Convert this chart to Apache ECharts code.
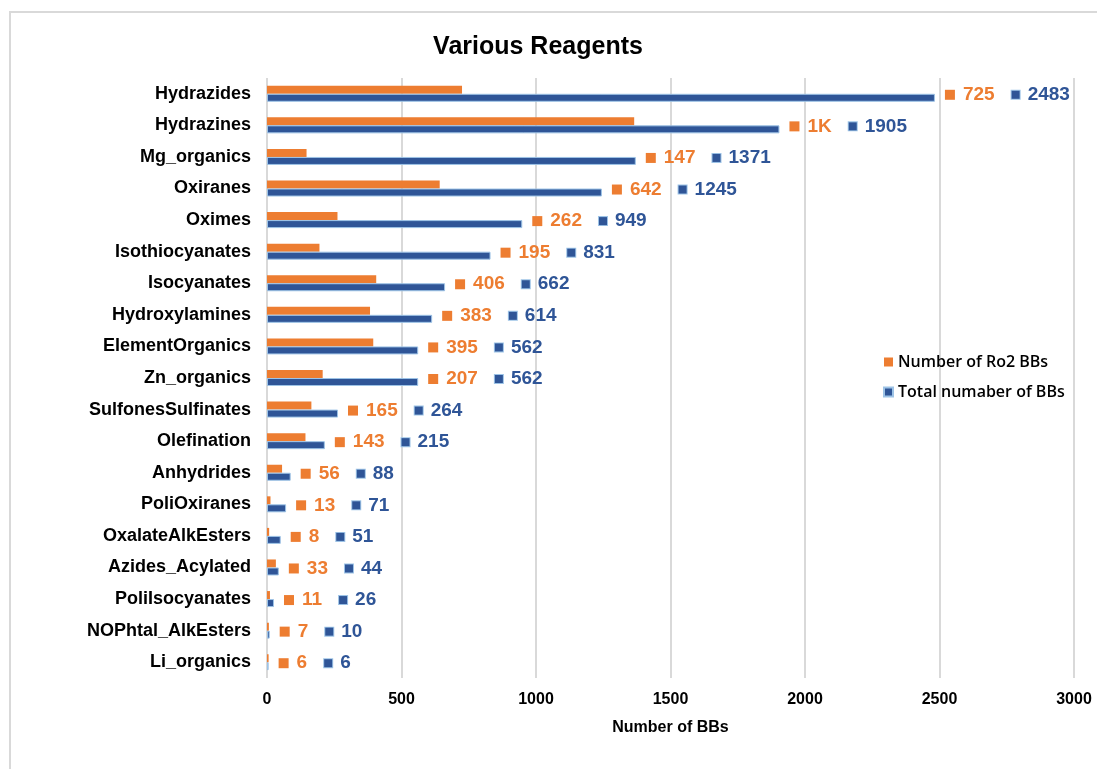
<!DOCTYPE html>
<html>
<head>
<meta charset="utf-8">
<script src="https://cdn.jsdelivr.net/npm/echarts@6/dist/echarts.min.js"></script>
<style>
  html, body { margin: 0; padding: 0; background: #fff; }
  #chart { width: 1097px; height: 769px; }
</style>
</head>
<body>
<div id="chart"></div>
<script>
// categories top to bottom
const categories = [
  "Hydrazides", "Hydrazines", "Mg_organics", "Oxiranes", "Oximes",
  "Isothiocyanates", "Isocyanates", "Hydroxylamines", "ElementOrganics",
  "Zn_organics", "SulfonesSulfinates", "Olefination", "Anhydrides",
  "PoliOxiranes", "OxalateAlkEsters", "Azides_Acylated", "PoliIsocyanates",
  "NOPhtal_AlkEsters", "Li_organics"
];
// Number of Ro2 BBs
const ro2Values = [725, 1365, 147, 642, 262, 195, 406, 383, 395, 207, 165, 143, 56, 13, 8, 33, 11, 7, 6];
// Total numaber of BBs
const totalValues = [2483, 1905, 1371, 1245, 949, 831, 662, 614, 562, 562, 264, 215, 88, 71, 51, 44, 26, 10, 6];
const xTicks = [0, 500, 1000, 1500, 2000, 2500, 3000];

const ORANGE = "#ED7D31";
const BLUE = "#2F5597";
const BLUE_EDGE = "#9DC3E6";

function fmtRo2(v) {
  // excel number format shows thousands as "1K"
  return v >= 1000 ? Math.round(v / 1000) + "K" : String(v);
}

const chart = echarts.init(document.getElementById("chart"));

const option = {
  animation: false,
  backgroundColor: "#fff",
  graphic: [
    {
      type: "polyline",
      shape: { points: [[10, 769], [10, 12], [1097, 12]] },
      style: { stroke: "#d9d9d9", lineWidth: 2, fill: null },
      silent: true
    }
  ],
  title: {
    text: "Various Reagents",
    left: 533,
    textAlign: "center",
    top: 30,
    textStyle: { fontFamily: "Arial", fontWeight: "bold", fontSize: 25, color: "#000" }
  },
  legend: {
    orient: "vertical",
    left: 878,
    top: 349,
    itemWidth: 9,
    itemHeight: 9,
    itemGap: 14,
    icon: "rect",
    textStyle: { fontFamily: "Open Sans", fontWeight: 600, fontSize: 16, color: "#000" },
    data: ["Number of Ro2 BBs", "Total numaber of BBs"]
  },
  grid: { left: 267, right: 23, top: 78, bottom: 91 },
  xAxis: {
    type: "value",
    min: xTicks[0],
    max: xTicks[xTicks.length - 1],
    interval: xTicks[1] - xTicks[0],
    name: "Number of BBs",
    nameLocation: "middle",
    nameGap: 42,
    nameTextStyle: { fontFamily: "Arial", fontWeight: "bold", fontSize: 16, color: "#000" },
    axisLine: { show: false },
    axisTick: { show: false },
    axisLabel: {
      margin: 14,
      formatter: function (v) { return String(v); },
      fontFamily: "Arial", fontWeight: "bold", fontSize: 16, color: "#000"
    },
    splitLine: { lineStyle: { color: "#d9d9d9", width: 2 } }
  },
  yAxis: {
    type: "category",
    inverse: true,
    data: categories,
    axisLine: { show: false },
    axisTick: { show: false },
    axisLabel: { margin: 16, fontFamily: "Arial", fontWeight: "bold", fontSize: 18, color: "#000" }
  },
  series: [
    {
      name: "Number of Ro2 BBs",
      type: "bar",
      data: ro2Values,
      barWidth: 8,
      barGap: "0%",
      itemStyle: { color: ORANGE }
    },
    {
      name: "Total numaber of BBs",
      type: "bar",
      data: totalValues,
      barWidth: 8,
      barGap: "0%",
      itemStyle: { color: BLUE, borderColor: BLUE_EDGE, borderWidth: 1 },
      label: {
        show: true,
        position: "right",
        distance: 10,
        offset: [0, -3],
        formatter: function (p) {
          return "{om|}{ov|" + fmtRo2(ro2Values[p.dataIndex]) + "}{bm|}{bv|" + p.value + "}";
        },
        rich: {
          om: { width: 10, height: 10, backgroundColor: ORANGE },
          ov: { color: ORANGE, fontFamily: "Arial", fontWeight: "bold", fontSize: 19, padding: [0, 17, 0, 8] },
          bm: { width: 8, height: 8, backgroundColor: BLUE, borderColor: BLUE_EDGE, borderWidth: 1 },
          bv: { color: BLUE, fontFamily: "Arial", fontWeight: "bold", fontSize: 19, padding: [0, 0, 0, 8] }
        }
      }
    }
  ]
};

chart.setOption(option);
</script>
</body>
</html>
